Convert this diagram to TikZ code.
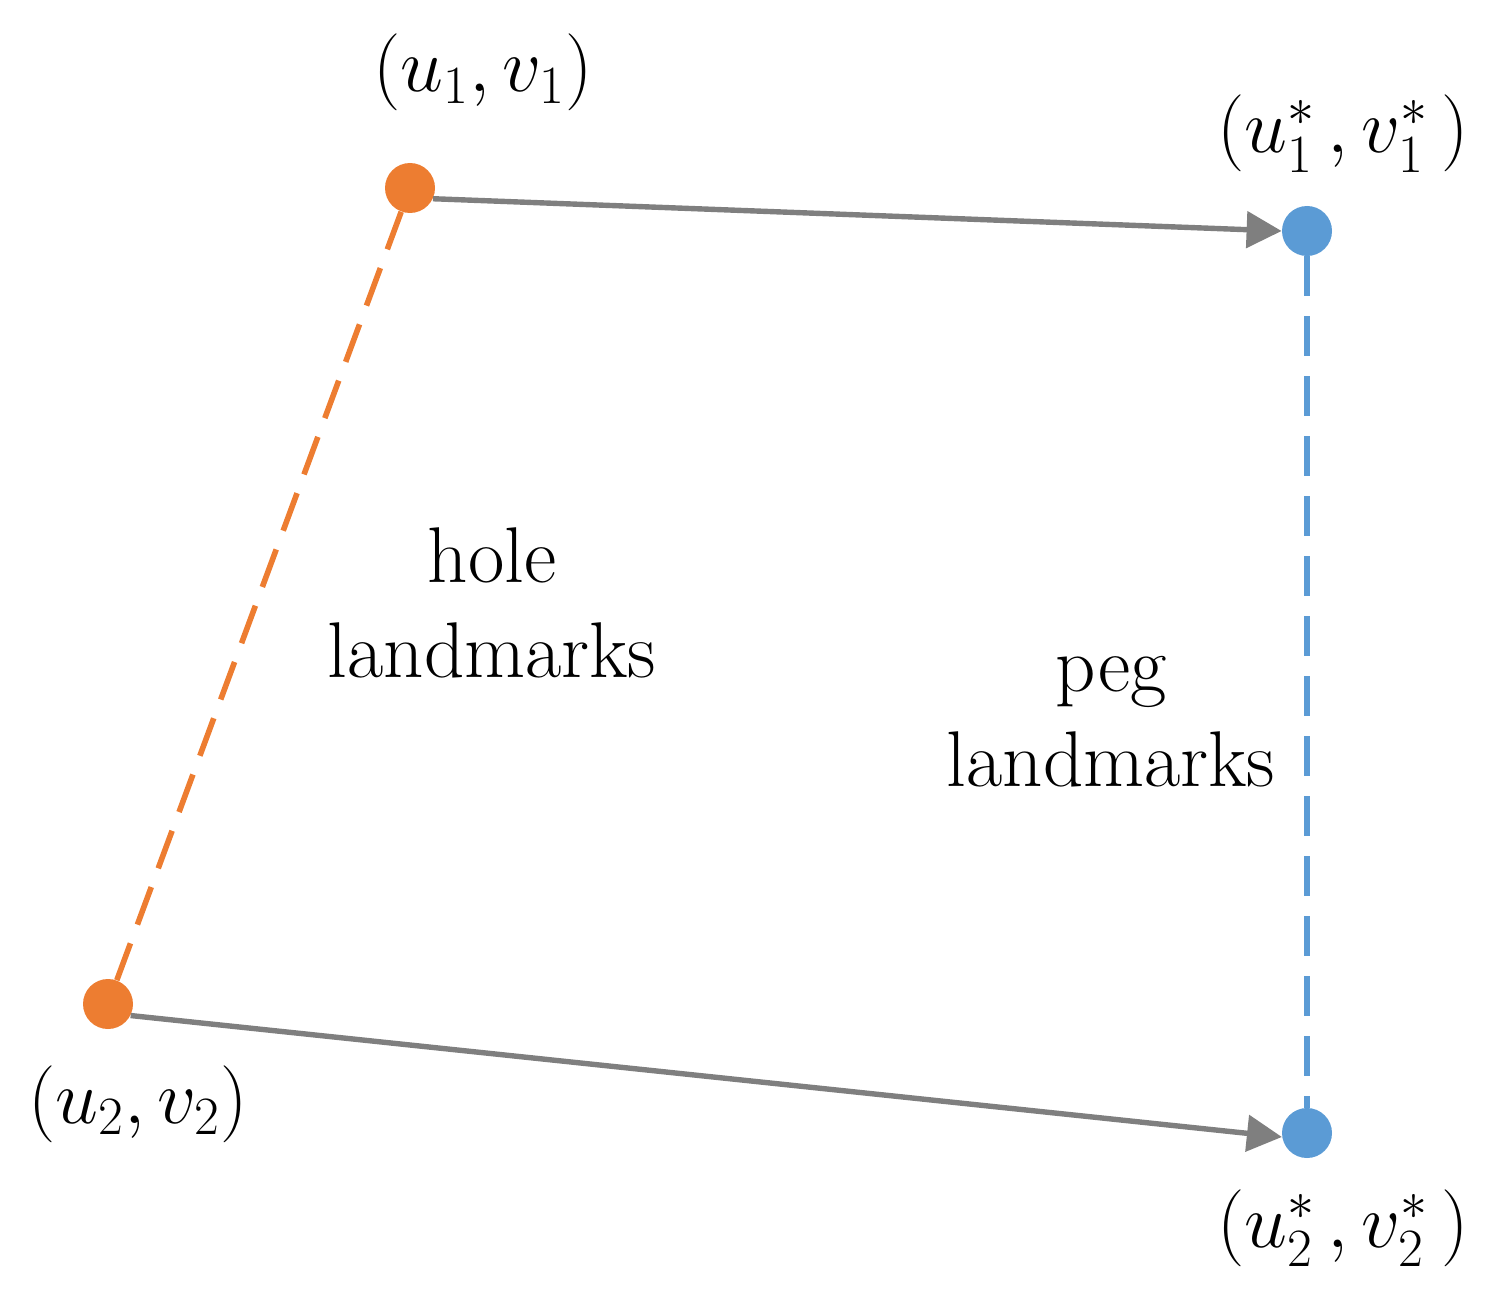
\documentclass[tikz,border=0pt]{standalone}
\usepackage{fix-cm}
\usepackage{fontspec}
\usetikzlibrary{arrows.meta}
\definecolor{cOrange}{HTML}{ED7D31}
\definecolor{cBlue}{HTML}{5B9BD5}
\definecolor{cGray}{HTML}{7F7F7F}
\tikzset{
  dot/.style={circle,inner sep=0pt,minimum size=25pt,fill=#1},
  move/.style={draw=cGray,line width=2.7pt,-{Triangle[length=17.5pt,width=18pt]}},
  pair/.style={draw=#1,line width=2.8pt,dash pattern=on 20pt off 10pt},
  lbl/.style={font=\fontsize{38.5}{38.5}\selectfont,inner sep=0pt,anchor=base},
  txt/.style={font=\fontsize{39.5}{47.5}\selectfont,inner sep=0pt,align=center,anchor=base}
}
\begin{document}
\begin{tikzpicture}[x=0.5pt,y=-0.5pt]
\useasboundingbox (0,0) rectangle (1492,1305);
\node[dot=cOrange] (o1) at (410,188) {};
\node[dot=cOrange] (o2) at (108,1004) {};
\node[dot=cBlue] (b1) at (1307,231) {};
\node[dot=cBlue] (b2) at (1307,1133) {};
\draw[pair=cOrange] (o1) -- (o2);
\draw[pair=cBlue] (b1) -- (b2);
\draw[move] (o1.-25) -- (b1.west);
\draw[move] (o2.-27) -- (b2.189);
\node[lbl] (l1) at (483,92) {$(u_{1},v_{1})$};
\node[lbl] (l2) at (1343,153) {$(u_{1}^{*}\,,v_{1}^{*}\,)$};
\node[lbl] (l3) at (138,1123) {$(u_{2},v_{2})$};
\node[lbl] (l4) at (1343,1247) {$(u_{2}^{*}\,,v_{2}^{*}\,)$};
\node[txt] (hole) at (492,677) {hole\\landmarks};
\node[txt] (peg) at (1111,786) {peg\\landmarks};
\end{tikzpicture}
\end{document}
